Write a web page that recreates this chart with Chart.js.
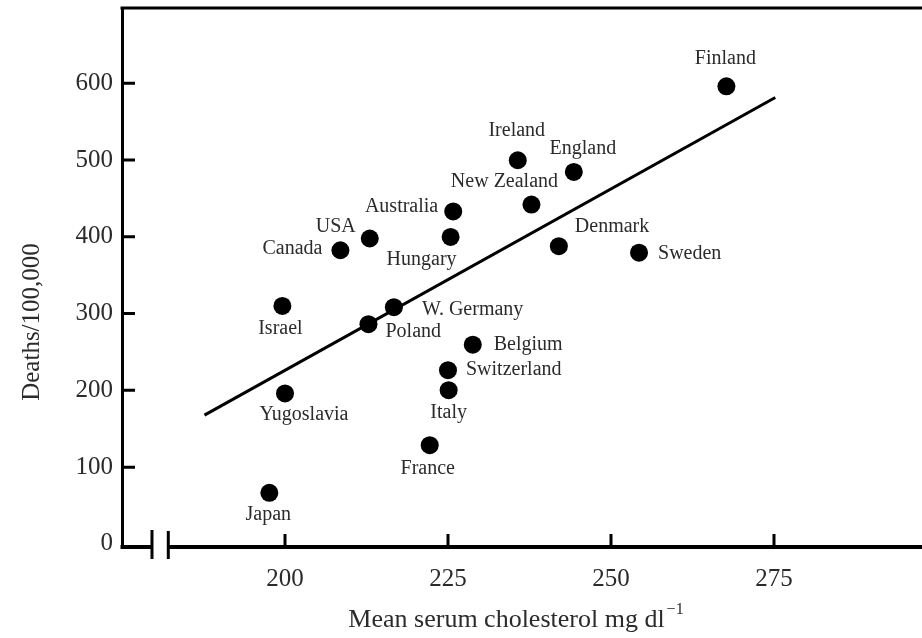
<!DOCTYPE html>
<html>
<head>
<meta charset="utf-8">
<script src="https://cdn.jsdelivr.net/npm/chart.js@4/dist/chart.umd.min.js"></script>
<style>
  html, body { margin: 0; padding: 0; background: #fff; }
  #c { display: block; }
</style>
</head>
<body>
<canvas id="c" width="922" height="638"></canvas>
<script>
// Coronary deaths per 100,000 against mean serum cholesterol, by country
const countries = ['Japan', 'Israel', 'Yugoslavia', 'Canada', 'USA', 'Poland', 'W. Germany',
  'Hungary', 'Australia', 'France', 'Italy', 'Switzerland', 'Belgium', 'Ireland',
  'New Zealand', 'England', 'Denmark', 'Sweden', 'Finland'];
const cholesterol = [197.6, 199.6, 200.0, 208.5, 213.0, 212.8, 216.7,
  225.4, 225.8, 222.2, 225.1, 225.0, 228.8, 235.7,
  237.8, 244.3, 242.0, 254.3, 267.7];
const deaths = [66.5, 310, 196, 382.5, 397.8, 286.2, 308.3,
  399.9, 433, 128.6, 200.3, 226.3, 259.5, 499.7,
  442, 484.5, 387.8, 379.3, 596];

// End points of the fitted line
const fitX = [187.65, 275.2];
const fitY = [167.7, 581.5];

// Axis ticks
const xTicks = [200, 225, 250, 275];
const yTicks = [0, 100, 200, 300, 400, 500, 600];

// Where each country name sits next to its dot: [textAlign, dx, dy] in pixels
const labelPlacement = {
  'Japan': ['center', -1, 22],
  'Israel': ['center', -2, 23],
  'Yugoslavia': ['center', 19, 21],
  'Canada': ['right', -18, -1],
  'USA': ['right', -14, -12],
  'Poland': ['left', 17, 8],
  'W. Germany': ['left', 28, 3],
  'Hungary': ['center', -29, 23],
  'Australia': ['right', -15, -5],
  'France': ['center', -2, 24],
  'Italy': ['center', 0, 23],
  'Switzerland': ['left', 18, 0],
  'Belgium': ['left', 21, 0],
  'Ireland': ['center', -1, -30],
  'New Zealand': ['center', -27, -23],
  'England': ['center', 9, -23],
  'Denmark': ['left', 16, -19],
  'Sweden': ['left', 19, 1],
  'Finland': ['center', -1, -28]
};

const SERIF = '"Liberation Serif", "DejaVu Serif", serif';
const INK = '#000';
const TEXT = '#2b2b2b';

const points = countries.map((name, i) => ({ x: cholesterol[i], y: deaths[i] }));
const fitLine = fitX.map((x, i) => ({ x, y: fitY[i] }));

// keep the plot box flush with the canvas edges instead of padding for end labels
function noEdgePadding(s) {
  s.paddingTop = 0;
  s.paddingBottom = 0;
  s.paddingLeft = 0;
  s.paddingRight = 0;
}

// Frame, inward tick marks, broken x axis, axis titles and country names
const decorations = {
  id: 'decorations',
  afterDatasetsDraw(chart) {
    const { ctx, chartArea: area, scales } = chart;
    const xs = scales.x, ys = scales.y;
    ctx.save();
    ctx.strokeStyle = INK;
    ctx.lineCap = 'butt';

    // top edge of the frame
    ctx.lineWidth = 3;
    ctx.beginPath();
    ctx.moveTo(area.left - 1.5, area.top);
    ctx.lineTo(area.right, area.top);
    ctx.stroke();

    // broken x axis
    const axisY = area.bottom;
    const b1 = xs.getPixelForValue(179.6);
    const b2 = xs.getPixelForValue(182.1);
    ctx.lineWidth = 4;
    ctx.beginPath();
    ctx.moveTo(area.left - 1.5, axisY);
    ctx.lineTo(b1, axisY);
    ctx.moveTo(b2, axisY);
    ctx.lineTo(area.right, axisY);
    ctx.stroke();
    ctx.lineWidth = 3;
    ctx.beginPath();
    ctx.moveTo(b1, axisY - 17);
    ctx.lineTo(b1, axisY + 12);
    ctx.moveTo(b2, axisY - 16);
    ctx.lineTo(b2, axisY + 12);
    ctx.stroke();

    // inward tick marks
    ctx.lineWidth = 3;
    ctx.beginPath();
    yTicks.forEach(v => {
      if (v === 0) return;
      const py = ys.getPixelForValue(v);
      ctx.moveTo(area.left, py);
      ctx.lineTo(area.left + 13, py);
    });
    xTicks.forEach(v => {
      const px = xs.getPixelForValue(v);
      ctx.moveTo(px, axisY);
      ctx.lineTo(px, axisY - 13);
    });
    ctx.stroke();

    // country names
    ctx.fillStyle = TEXT;
    ctx.font = '20px ' + SERIF;
    ctx.textBaseline = 'middle';
    const meta = chart.getDatasetMeta(0);
    meta.data.forEach((el, i) => {
      const [align, dx, dy] = labelPlacement[countries[i]];
      ctx.textAlign = align;
      ctx.fillText(countries[i], el.x + dx, el.y + dy);
    });

    // y axis title
    ctx.save();
    ctx.font = '25px ' + SERIF;
    ctx.textAlign = 'center';
    ctx.textBaseline = 'middle';
    ctx.translate(32, 322);
    ctx.rotate(-Math.PI / 2);
    ctx.fillText('Deaths/100,000', 0, 0);
    ctx.restore();

    // x axis title with superscript
    const main = 'Mean serum cholesterol mg dl';
    const sup = '\u22121';
    ctx.font = '26px ' + SERIF;
    const wMain = ctx.measureText(main).width;
    ctx.font = '16px ' + SERIF;
    const wSup = ctx.measureText(sup).width;
    const startX = 516 - (wMain + wSup + 2) / 2;
    ctx.textAlign = 'left';
    ctx.textBaseline = 'alphabetic';
    ctx.font = '26px ' + SERIF;
    ctx.fillText(main, startX, 627);
    ctx.font = '16px ' + SERIF;
    ctx.fillText(sup, startX + wMain + 2, 614);

    ctx.restore();
  }
};

new Chart(document.getElementById('c'), {
  type: 'scatter',
  data: {
    datasets: [
      {
        label: 'Countries',
        data: points,
        pointRadius: 9,
        pointHoverRadius: 9,
        pointBackgroundColor: INK,
        pointBorderWidth: 0,
        order: 1
      },
      {
        label: 'Fit',
        data: fitLine,
        showLine: true,
        borderColor: INK,
        borderWidth: 3,
        pointRadius: 0,
        fill: false,
        order: 2
      }
    ]
  },
  options: {
    responsive: false,
    animation: false,
    devicePixelRatio: 1,
    layout: { autoPadding: false, padding: { top: 8, right: 0, left: 0, bottom: 0 } },
    plugins: {
      legend: { display: false },
      tooltip: { enabled: false }
    },
    scales: {
      x: {
        type: 'linear',
        min: 175,
        max: 297.7,
        afterBuildTicks: s => { s.ticks = xTicks.map(v => ({ value: v })); },
        afterFit: s => { s.height = 91; noEdgePadding(s); },
        grid: { display: false, drawTicks: false },
        border: { display: false },
        ticks: {
          padding: 17,
          color: TEXT,
          font: { family: SERIF, size: 25 },
          maxRotation: 0
        }
      },
      y: {
        type: 'linear',
        min: -4,
        max: 698,
        afterBuildTicks: s => { s.ticks = yTicks.map(v => ({ value: v })); },
        afterFit: s => { s.width = 122; noEdgePadding(s); },
        grid: { display: false, drawTicks: false },
        border: { display: true, color: INK, width: 3 },
        ticks: {
          padding: 9,
          color: TEXT,
          font: { family: SERIF, size: 25 }
        }
      }
    }
  },
  plugins: [decorations]
});
</script>
</body>
</html>
